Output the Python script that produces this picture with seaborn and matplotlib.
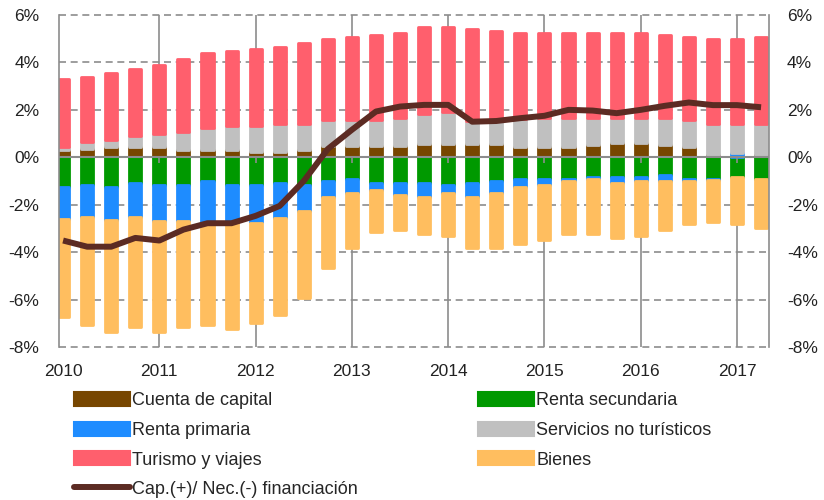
import numpy as np
import matplotlib
matplotlib.use("Agg")
import matplotlib.pyplot as plt
import seaborn as sns
from matplotlib.patches import Patch
from matplotlib.lines import Line2D

# trimestres 2010T1 .. 2017T2
quarters = ["2010T1", "2010T2", "2010T3", "2010T4",
            "2011T1", "2011T2", "2011T3", "2011T4",
            "2012T1", "2012T2", "2012T3", "2012T4",
            "2013T1", "2013T2", "2013T3", "2013T4",
            "2014T1", "2014T2", "2014T3", "2014T4",
            "2015T1", "2015T2", "2015T3", "2015T4",
            "2016T1", "2016T2", "2016T3", "2016T4",
            "2017T1", "2017T2"]
year_labels = ["2010", "2011", "2012", "2013", "2014", "2015", "2016", "2017"]

# % del PIB
capital = [0.31, 0.35, 0.44, 0.44, 0.44, 0.31, 0.31, 0.31, 0.23, 0.23,
           0.31, 0.48, 0.48, 0.48, 0.48, 0.57, 0.57, 0.57, 0.57, 0.45,
           0.45, 0.45, 0.52, 0.59, 0.59, 0.52, 0.45, 0.10, 0.03, 0.10]
secundaria = [-1.24, -1.16, -1.24, -1.07, -1.15, -1.15, -0.98, -1.15, -1.15, -1.07,
              -1.16, -0.98, -0.92, -1.07, -1.07, -1.07, -1.15, -1.07, -0.98, -0.90,
              -0.92, -0.92, -0.84, -0.84, -0.84, -0.73, -0.92, -0.92, -0.82, -0.90]
primaria = [-1.35, -1.34, -1.40, -1.43, -1.52, -1.52, -1.80, -1.63, -1.60, -1.50,
            -1.09, -0.68, -0.57, -0.33, -0.50, -0.59, -0.34, -0.59, -0.51, -0.34,
            -0.23, -0.06, -0.08, -0.23, -0.14, -0.28, -0.06, -0.04, 0.15, 0.00]
servicios = [0.14, 0.30, 0.29, 0.46, 0.55, 0.76, 0.93, 1.01, 1.09, 1.18,
             1.10, 1.10, 1.10, 1.10, 1.18, 1.26, 1.35, 0.98, 1.01, 1.15,
             1.20, 1.20, 1.13, 1.06, 1.06, 1.13, 1.13, 1.31, 1.23, 1.31]
turismo = [2.84, 2.74, 2.83, 2.83, 2.91, 3.08, 3.16, 3.17, 3.25, 3.25,
           3.42, 3.42, 3.50, 3.58, 3.58, 3.67, 3.58, 3.87, 3.75, 3.64,
           3.59, 3.59, 3.59, 3.59, 3.59, 3.51, 3.50, 3.59, 3.59, 3.67]
bienes = [-4.16, -4.59, -4.71, -4.67, -4.68, -4.50, -4.31, -4.47, -4.25, -4.09,
          -3.67, -2.99, -2.32, -1.75, -1.49, -1.57, -1.83, -2.16, -2.33, -2.41,
          -2.34, -2.25, -2.31, -2.33, -2.34, -2.05, -1.83, -1.77, -1.99, -2.08]
financiacion = [-3.51, -3.77, -3.77, -3.40, -3.51, -3.05, -2.78, -2.78, -2.47, -2.05,
                -1.00, 0.35, 1.16, 1.93, 2.14, 2.21, 2.21, 1.50, 1.53, 1.65,
                1.75, 2.00, 1.97, 1.86, 2.00, 2.17, 2.31, 2.20, 2.20, 2.11]

colors = {"capital": "#774600", "secundaria": "#009900", "primaria": "#1E8CFF",
          "servicios": "#C0C0C0", "turismo": "#FF5F6D", "bienes": "#FFBE5F"}
line_color = "#5C2B23"
grid_color = "#8C8C8C"

sns.set_style("white")
plt.rcParams["font.family"] = ["Liberation Sans", "DejaVu Sans"]

fig = plt.figure(figsize=(8.24, 5.0), dpi=100)
ax = fig.add_axes([59 / 824, 1 - 347 / 500, 710 / 824, 332 / 500])

# stacked bars: positives stack up, negatives stack down
series = [("capital", capital), ("secundaria", secundaria), ("primaria", primaria),
          ("servicios", servicios), ("turismo", turismo), ("bienes", bienes)]
pos_base = np.zeros(len(quarters))
neg_base = np.zeros(len(quarters))
for name, vals in series:
    vals = np.array(vals)
    bottom = np.where(vals >= 0, pos_base, neg_base)
    sns.barplot(x=quarters, y=vals, bottom=bottom, color=colors[name], saturation=1,
                width=0.5, errorbar=None, ax=ax, edgecolor=colors[name], linewidth=2,
                joinstyle="round", zorder=2)
    pos_base = pos_base + np.where(vals >= 0, vals, 0)
    neg_base = neg_base + np.where(vals < 0, vals, 0)

x = np.arange(len(quarters))
sns.lineplot(x=x, y=financiacion, color=line_color, linewidth=4.3, ax=ax, zorder=4,
             solid_joinstyle="round", solid_capstyle="butt")

# grid
for yv in range(-8, 7, 2):
    if yv == 0:
        ax.axhline(0, color=grid_color, lw=1.5, zorder=3)
    else:
        ax.axhline(yv, color=grid_color, lw=1.2, dashes=(4.2, 2.8), zorder=0.5, clip_on=False)
year_pos = list(range(0, len(quarters), 4))
for xv in year_pos[1:]:
    ax.axvline(xv, color=grid_color, lw=1.2, zorder=0.5)
ax.vlines(year_pos[1:], -0.25, 0, color=grid_color, lw=1.2, zorder=3)

ax.set_xlim(-0.17, 29.33)
ax.set_ylim(-8, 6)
ax.set_xticks(year_pos)
ax.set_xticklabels(year_labels)
yt = list(range(-8, 7, 2))
ax.set_yticks(yt)
ax.set_yticklabels([f"{v}%" for v in yt])
ax.tick_params(axis="x", length=0, pad=12, labelsize=12.5, labelcolor="#222222")
ax.tick_params(axis="y", length=0, pad=14, labelsize=12.5, labelcolor="#222222")
ax.set_xlabel("")
ax.set_ylabel("")
for s in ["top", "bottom"]:
    ax.spines[s].set_visible(False)
for s in ["left", "right"]:
    ax.spines[s].set_color(grid_color)
    ax.spines[s].set_linewidth(1.2)

ax2 = ax.twinx()
ax2.set_ylim(-8, 6)
ax2.set_yticks(yt)
ax2.set_yticklabels([f"{v}%" for v in yt])
ax2.tick_params(axis="y", length=0, pad=13, labelsize=12.5, labelcolor="#222222")
for s in ax2.spines.values():
    s.set_visible(False)

def box(c):
    return Patch(facecolor=c, edgecolor=c, linewidth=1.5, joinstyle="round")

h1 = [box(colors["capital"]), box(colors["primaria"]), box(colors["turismo"]),
      Line2D([0], [0], color=line_color, lw=4.3)]
l1 = ["Cuenta de capital", "Renta primaria", "Turismo y viajes", "Cap.(+)/ Nec.(-) financiación"]
h2 = [box(colors["secundaria"]), box(colors["servicios"]), box(colors["bienes"])]
l2 = ["Renta secundaria", "Servicios no turísticos", "Bienes"]

leg_kw = dict(loc="upper left", frameon=False, borderpad=0, borderaxespad=0,
              handlelength=3.1, handleheight=0.85, handletextpad=0.12,
              labelspacing=0.67, fontsize=13)
fig.legend(h1, l1, bbox_to_anchor=(74 / 824, 1 - 392 / 500), **leg_kw)
fig.legend(h2, l2, bbox_to_anchor=(478 / 824, 1 - 392 / 500), **leg_kw)

fig.savefig("out.png", dpi=100)
